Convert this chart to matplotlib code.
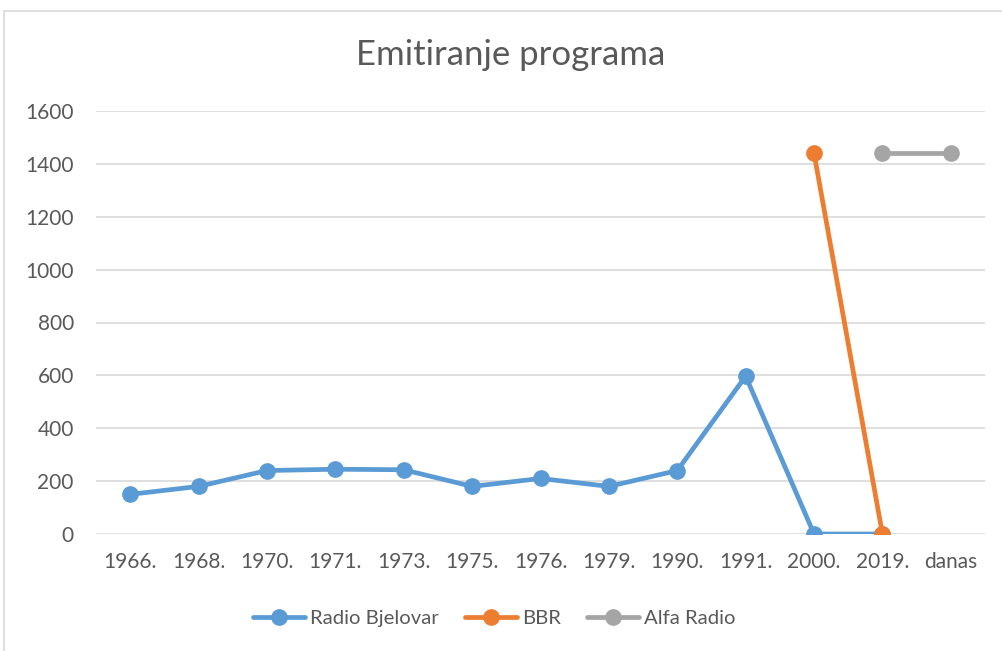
import matplotlib

matplotlib.use("Agg")
import matplotlib.pyplot as plt
import numpy as np
from matplotlib.patches import Rectangle

categories = ["1966.", "1968.", "1970.", "1971.", "1973.", "1975.", "1976.",
              "1979.", "1990.", "1991.", "2000.", "2019.", "danas"]
radio_bjelovar = [150, 180, 240, 245, 243, 180, 210, 180, 240, 597, 0, 0, None]
bbr = [None] * 10 + [1440, 0, None]
alfa_radio = [None] * 11 + [1440, 1440]

BLUE = "#5B9BD5"
ORANGE = "#ED7D31"
GRAY = "#A5A5A5"
TEXT = "#595959"

plt.rcParams["font.family"] = ["Lato", "DejaVu Sans"]

fig = plt.figure(figsize=(10.03, 6.51), dpi=100)
fig.patches.append(Rectangle((4 / 1003, -0.1), 1.2, 1.1 - 11 / 651,
                             transform=fig.transFigure, fill=False,
                             ec="#D9D9D9", lw=1.2))

ax = fig.add_axes([96 / 1003, 117 / 651, 889 / 1003, 423 / 651])
x = np.arange(len(categories))


def series(vals):
    return np.array([np.nan if v is None else v for v in vals], float)


kw = dict(lw=3.4, marker="o", ms=11, solid_capstyle="round")
ax.plot(x, series(radio_bjelovar), color=BLUE, label="Radio Bjelovar", **kw)
ax.plot(x, series(bbr), color=ORANGE, label="BBR", **kw)
ax.plot(x, series(alfa_radio), color=GRAY, label="Alfa Radio", **kw)

ax.set_xlim(-0.5, len(categories) - 0.5)
ax.set_ylim(0, 1600)
ax.set_yticks(range(0, 1601, 200))
ax.set_xticks(x)
ax.set_xticklabels(categories)
ax.grid(True, axis="y", color="#D9D9D9", lw=1.2)
ax.set_axisbelow(True)
for s in ax.spines.values():
    s.set_visible(False)
ax.tick_params(length=0, labelsize=15, labelcolor=TEXT)
ax.tick_params(axis="y", pad=16)
ax.tick_params(axis="x", pad=13)

fig.text(511 / 1003, 1 - 55 / 651, "Emitiranje programa", ha="center",
         va="center", fontsize=25, color=TEXT)

ax.legend(loc="center", bbox_to_anchor=((494 - 96) / 889, -(618 - 534) / 423),
          ncol=3, frameon=False, fontsize=14.6, labelcolor=TEXT,
          handlelength=2.56, columnspacing=1.3, handletextpad=0.25)

fig.savefig("out.png", dpi=100)
